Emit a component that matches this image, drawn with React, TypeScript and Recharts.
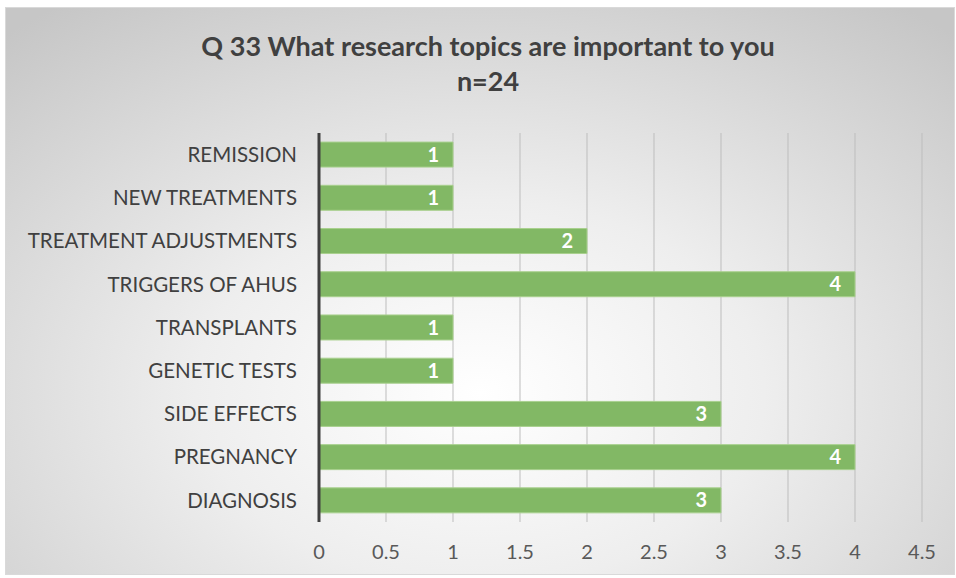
import React from 'react'
import { BarChart, Bar, XAxis, YAxis, CartesianGrid, LabelList } from 'recharts'

const topics = [
  'REMISSION',
  'NEW TREATMENTS',
  'TREATMENT ADJUSTMENTS',
  'TRIGGERS OF AHUS',
  'TRANSPLANTS',
  'GENETIC TESTS',
  'SIDE EFFECTS',
  'PREGNANCY',
  'DIAGNOSIS',
]
const counts = [1, 1, 2, 4, 1, 1, 3, 4, 3]
const xTicks = [0, 0.5, 1, 1.5, 2, 2.5, 3, 3.5, 4, 4.5]

const data = topics.map((topic, i) => ({ topic, count: counts[i] }))

const FONT = 'Lato, "Open Sans", sans-serif'

export default function App() {
  return (
    <div
      style={{
        position: 'absolute',
        left: 5,
        top: 7,
        width: 950,
        height: 568,
        border: '1px solid #d9d9d9',
        boxSizing: 'border-box',
        background: 'radial-gradient(ellipse 75% 85% at 50% 68%, #ffffff 0%, #eeeeee 40%, #c6c6c6 100%)',
        fontFamily: FONT,
      }}
    >
      <div
        style={{
          position: 'absolute',
          left: 0,
          width: 964,
          top: 20,
          textAlign: 'center',
          color: '#404040',
          fontWeight: 700,
          fontSize: 27,
          lineHeight: '35px',
        }}
      >
        Q 33 What research topics are important to you
        <br />
        n=24
      </div>
      <BarChart
        width={948}
        height={566}
        data={data}
        layout="vertical"
        margin={{ top: 125, right: 32, left: 0, bottom: 0 }}
        barCategoryGap="21%"
        style={{ position: 'absolute', left: 0, top: 0 }}
      >
        <CartesianGrid horizontal={false} stroke="#bdbdbd" />
        <XAxis
          type="number"
          domain={[0, 4.5]}
          ticks={xTicks}
          axisLine={false}
          tickLine={false}
          height={52}
          tickMargin={17}
          tick={{ fill: '#595959', fontSize: 20, fontFamily: FONT }}
        />
        <YAxis
          type="category"
          dataKey="topic"
          width={313}
          axisLine={{ stroke: '#404040', strokeWidth: 3 }}
          tickLine={false}
          tickMargin={16}
          tick={{ fill: '#404040', fontSize: 20.5, fontFamily: FONT }}
        />
        <Bar dataKey="count" fill="#82b865" stroke="#a9d08e" strokeWidth={1} isAnimationActive={false}>
          <LabelList
            dataKey="count"
            position="insideRight"
            offset={14}
            fill="#ffffff"
            fontSize={20}
            fontWeight={700}
            fontFamily={FONT}
          />
        </Bar>
      </BarChart>
    </div>
  )
}
